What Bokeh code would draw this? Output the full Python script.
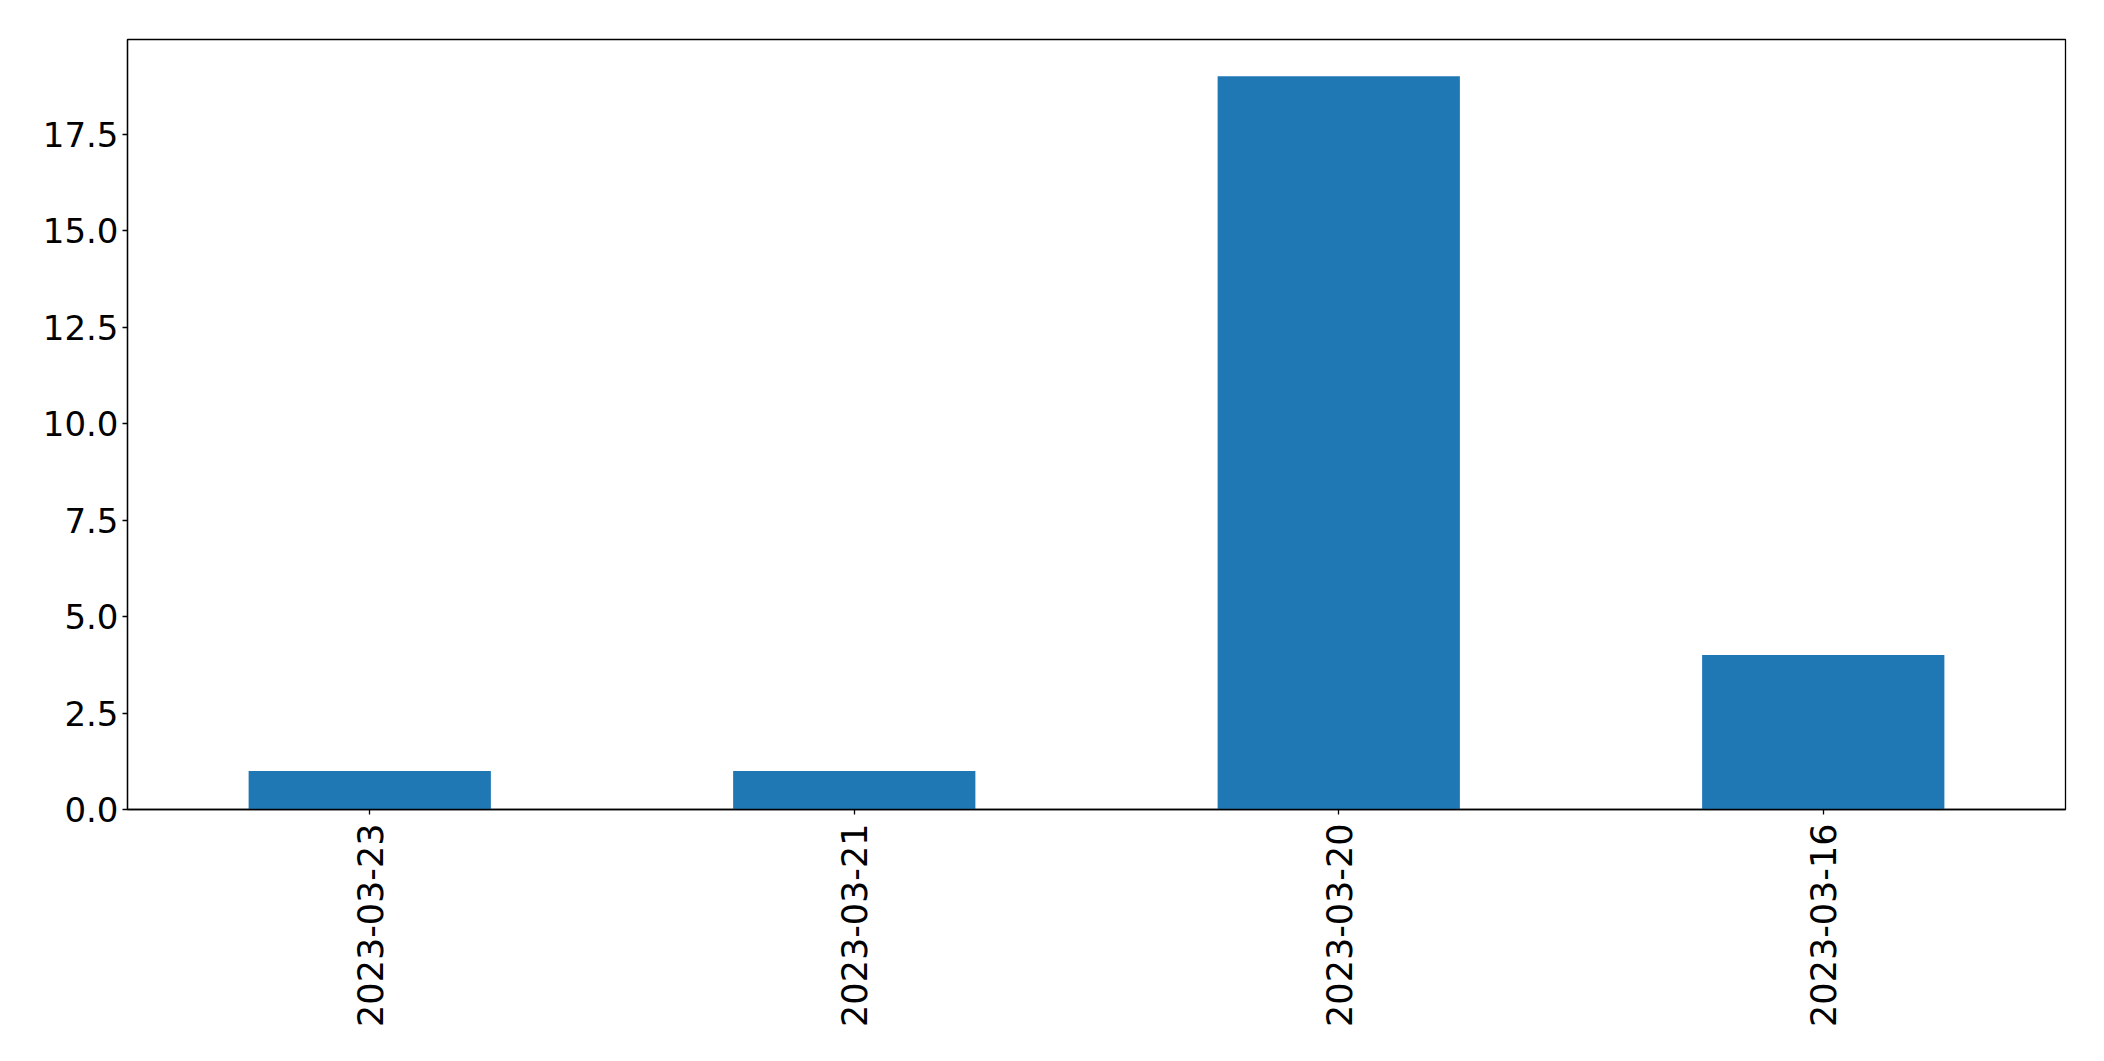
import math
from bokeh.plotting import figure
from bokeh.models import FactorRange, Range1d, FixedTicker, PrintfTickFormatter
from bokeh.embed import file_html
from bokeh.resources import INLINE

dates = ["2023-03-23", "2023-03-21", "2023-03-20", "2023-03-16"]
counts = [1, 1, 19, 4]
y_ticks = [0, 2.5, 5.0, 7.5, 10.0, 12.5, 15.0, 17.5]

p = figure(
    width=2096, height=1053,
    x_range=FactorRange(factors=dates),
    y_range=Range1d(0, 19.95),
    output_backend="svg", toolbar_location=None,
    min_border_left=127, min_border_right=31,
    min_border_top=39, min_border_bottom=244,
)

p.vbar(x=dates, top=counts, width=0.5, color="#1f77b4", line_color=None)

p.xgrid.visible = False
p.ygrid.visible = False
p.outline_line_color = "black"
p.outline_line_width = 1.3
p.outline_line_alpha = 1.0
p.background_fill_color = "white"
p.border_fill_color = "white"

for ax in (p.xaxis[0], p.yaxis[0]):
    ax.axis_line_color = "black"
    ax.axis_line_width = 1.3
    ax.major_tick_line_color = "black"
    ax.major_tick_line_width = 1.3
    ax.major_tick_out = 5
    ax.major_tick_in = 0
    ax.minor_tick_line_color = None
    ax.major_label_text_font = "DejaVu Sans"
    ax.major_label_text_color = "black"

p.yaxis[0].major_label_text_font_size = "34px"
p.xaxis[0].major_label_text_font_size = "35px"
p.yaxis[0].ticker = FixedTicker(ticks=y_ticks)
p.yaxis[0].formatter = PrintfTickFormatter(format="%.1f")
p.yaxis[0].major_label_standoff = 4
p.xaxis[0].major_label_orientation = math.pi / 2
p.xaxis[0].major_label_standoff = 9

open("out.html", "w").write(file_html(p, INLINE))
